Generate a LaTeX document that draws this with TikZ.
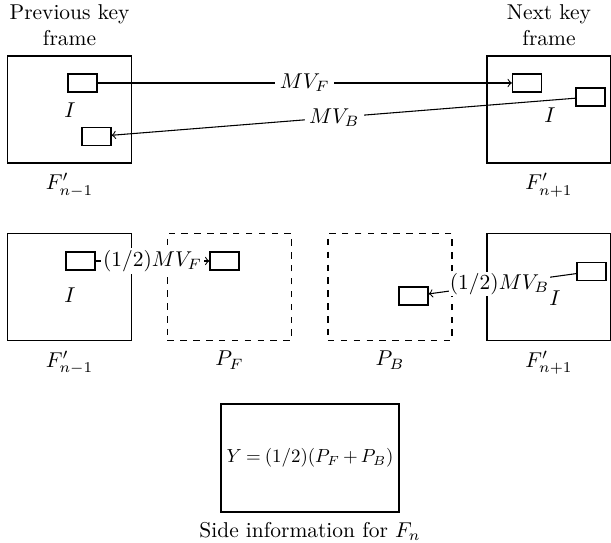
\documentclass[tikz,border=0pt]{standalone}
\usepackage{tikz}
\usepackage{graphicx}
\usetikzlibrary{positioning}
\tikzset{
  keyframe/.style={draw, line width=0.7pt, minimum width=57.8pt, minimum height=49.9pt, inner sep=0pt},
  predframe/.style={keyframe, dashed},
  blk/.style={draw, line width=0.6pt, minimum width=13.5pt, minimum height=8.4pt, inner sep=0pt},
  mvlabel/.style={fill=white, inner sep=1pt},
}
\begin{document}
\begin{tikzpicture}[x=0.466pt, y=-0.466pt, >=to, line width=0.5pt]
\useasboundingbox (0,0) rectangle (611,543);
% top row: key frames
\node[keyframe] (prev) at (69.5,109.5) {};
\node[keyframe] (next) at (549,109.5) {};
\node[above=1pt of prev, align=center] (prevtxt) {Previous key\\frame};
\node[above=1pt of next, align=center] (nexttxt) {Next key\\frame};
\node[below=1pt of prev] (prevcap) {$F'_{n-1}$};
\node[below=1pt of next] (nextcap) {$F'_{n+1}$};
\node (prevI) at (70,110) {$I$};
\node (nextI) at (550,115) {$I$};
\node[blk] (blkA) at (82.5,83) {};
\node[blk] (blkB) at (96.5,136.5) {};
\node[blk] (blkC) at (527,83) {};
\node[blk] (blkD) at (590.5,97) {};
\draw[->] (blkA) -- node[mvlabel, inner sep=2pt]{$MV_F$} (blkC);
\draw[->] (blkD) -- node[mvlabel, inner sep=2pt, pos=0.52]{$MV_B$} (blkB);
% middle row: halfway predictions
\node[keyframe] (prev2) at (69.5,287) {};
\node[predframe] (pf) at (229.5,287) {};
\node[predframe] (pb) at (390,287) {};
\node[keyframe] (next2) at (549,287) {};
\node[below=1pt of prev2] (prev2cap) {$F'_{n-1}$};
\node[below=1pt of pf] (pfcap) {$P_F$};
\node[below=1pt of pb] (pbcap) {$P_B$};
\node[below=1pt of next2] (next2cap) {$F'_{n+1}$};
\node[blk] (blkE) at (80.5,261) {};
\node[blk] (blkF) at (224.5,261) {};
\node[blk] (blkG) at (413.5,296) {};
\node[blk] (blkH) at (591.5,271.5) {};
\draw[->] (blkE) -- node[mvlabel]{$(1/2)MV_F$} (blkF);
\draw[->] (blkH) -- node[mvlabel, pos=0.52, inner sep=0.5pt]{$(1/2)MV_B$} (blkG);
\node (prev2I) at (70,295) {$I$};
\node (next2I) at (555,298) {$I$};
% bottom: side information
\node[draw, line width=0.7pt, minimum width=83pt, minimum height=50.3pt, inner sep=0pt] (side) at (310,458)
  {\scalebox{0.88}{$\thickmuskip=4mu\medmuskip=3mu Y=(1/2)(P_F+P_B)$}};
\node[below=1pt of side] (sidecap) {Side information for $F_n$};
\end{tikzpicture}
\end{document}
